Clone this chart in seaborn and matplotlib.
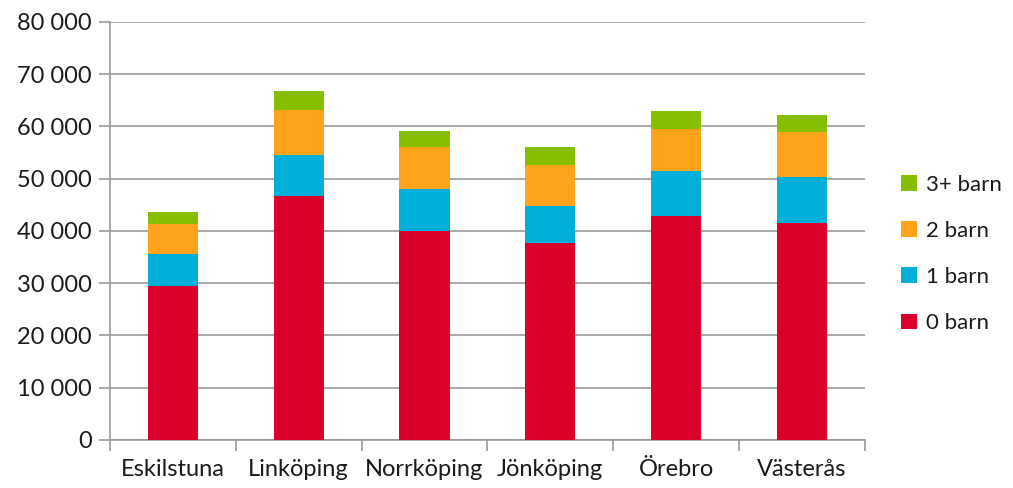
import numpy as np
import pandas as pd
import matplotlib
matplotlib.use('Agg')
import matplotlib.pyplot as plt
import seaborn as sns
from matplotlib.patches import Patch
from matplotlib.ticker import FuncFormatter

# Data
cities = ['Eskilstuna', 'Linköping', 'Norrköping', 'Jönköping', 'Örebro', 'Västerås']
barn_0 = [29500, 46700, 40000, 37600, 42800, 41500]
barn_1 = [6100, 7800, 8100, 7100, 8600, 8800]
barn_2 = [5700, 8600, 7900, 7900, 8100, 8700]
barn_3 = [2400, 3700, 3200, 3400, 3400, 3200]

series_names = ['0 barn', '1 barn', '2 barn', '3+ barn']
colors = ['#D9002A', '#00AFD7', '#FFA41A', '#86BE00']


def build_frame():
    """Stack the series into cumulative tops per city."""
    df = pd.DataFrame({'stad': cities, '0 barn': barn_0, '1 barn': barn_1,
                       '2 barn': barn_2, '3+ barn': barn_3})
    cum = df[series_names].cumsum(axis=1)
    cum['stad'] = df['stad']
    return cum


def main():
    sns.set_theme(style='white')
    plt.rcParams['font.family'] = ['Lato', 'DejaVu Sans']

    cum = build_frame()

    fig = plt.figure(figsize=(10.13, 4.88), dpi=100)
    ax = fig.add_axes([0.1086, 0.0984, 0.745, 0.857])

    # draw tallest cumulative first so lower segments overlay it
    for name, col in reversed(list(zip(series_names, colors))):
        sns.barplot(data=cum, x='stad', y=name, order=cities, color=col,
                    width=0.4, saturation=1, ax=ax, edgecolor='none', zorder=3)

    ax.set_ylim(0, 80000)
    ax.set_xlim(-0.5, 5.5)
    ax.set_yticks(np.arange(0, 80001, 10000))
    ax.yaxis.set_major_formatter(FuncFormatter(lambda v, p: f'{int(v):,}'.replace(',', ' ')))
    ax.set_xlabel('')
    ax.set_ylabel('')

    ax.grid(axis='y', color='#999999', linewidth=1.2, zorder=0)
    ax.set_axisbelow(True)
    for side in ['top', 'right']:
        ax.spines[side].set_visible(False)
    for side in ['left', 'bottom']:
        ax.spines[side].set_color('#999999')
        ax.spines[side].set_linewidth(1.2)

    ax.tick_params(axis='y', length=8, width=1.2, color='#999999', labelsize=17,
                   labelcolor='#1a1a1a', left=True, pad=5)
    ax.tick_params(axis='x', which='major', length=0, labelsize=17,
                   labelcolor='#1a1a1a', pad=14)
    ax.set_xticks(np.arange(-0.5, 6.0, 1.0), minor=True)
    ax.tick_params(axis='x', which='minor', length=8, width=1.2, color='#999999', bottom=True)

    handles = [Patch(facecolor=c, edgecolor='none', label=n)
               for n, c in zip(series_names, colors)][::-1]
    ax.legend(handles=handles, loc='center left', bbox_to_anchor=(1.022, 0.445),
              frameon=False, fontsize=16, handlelength=0.7, handleheight=0.7,
              handletextpad=0.4, labelspacing=1.18, labelcolor='#1a1a1a')

    fig.savefig('out.png', dpi=100)


if __name__ == '__main__':
    main()
